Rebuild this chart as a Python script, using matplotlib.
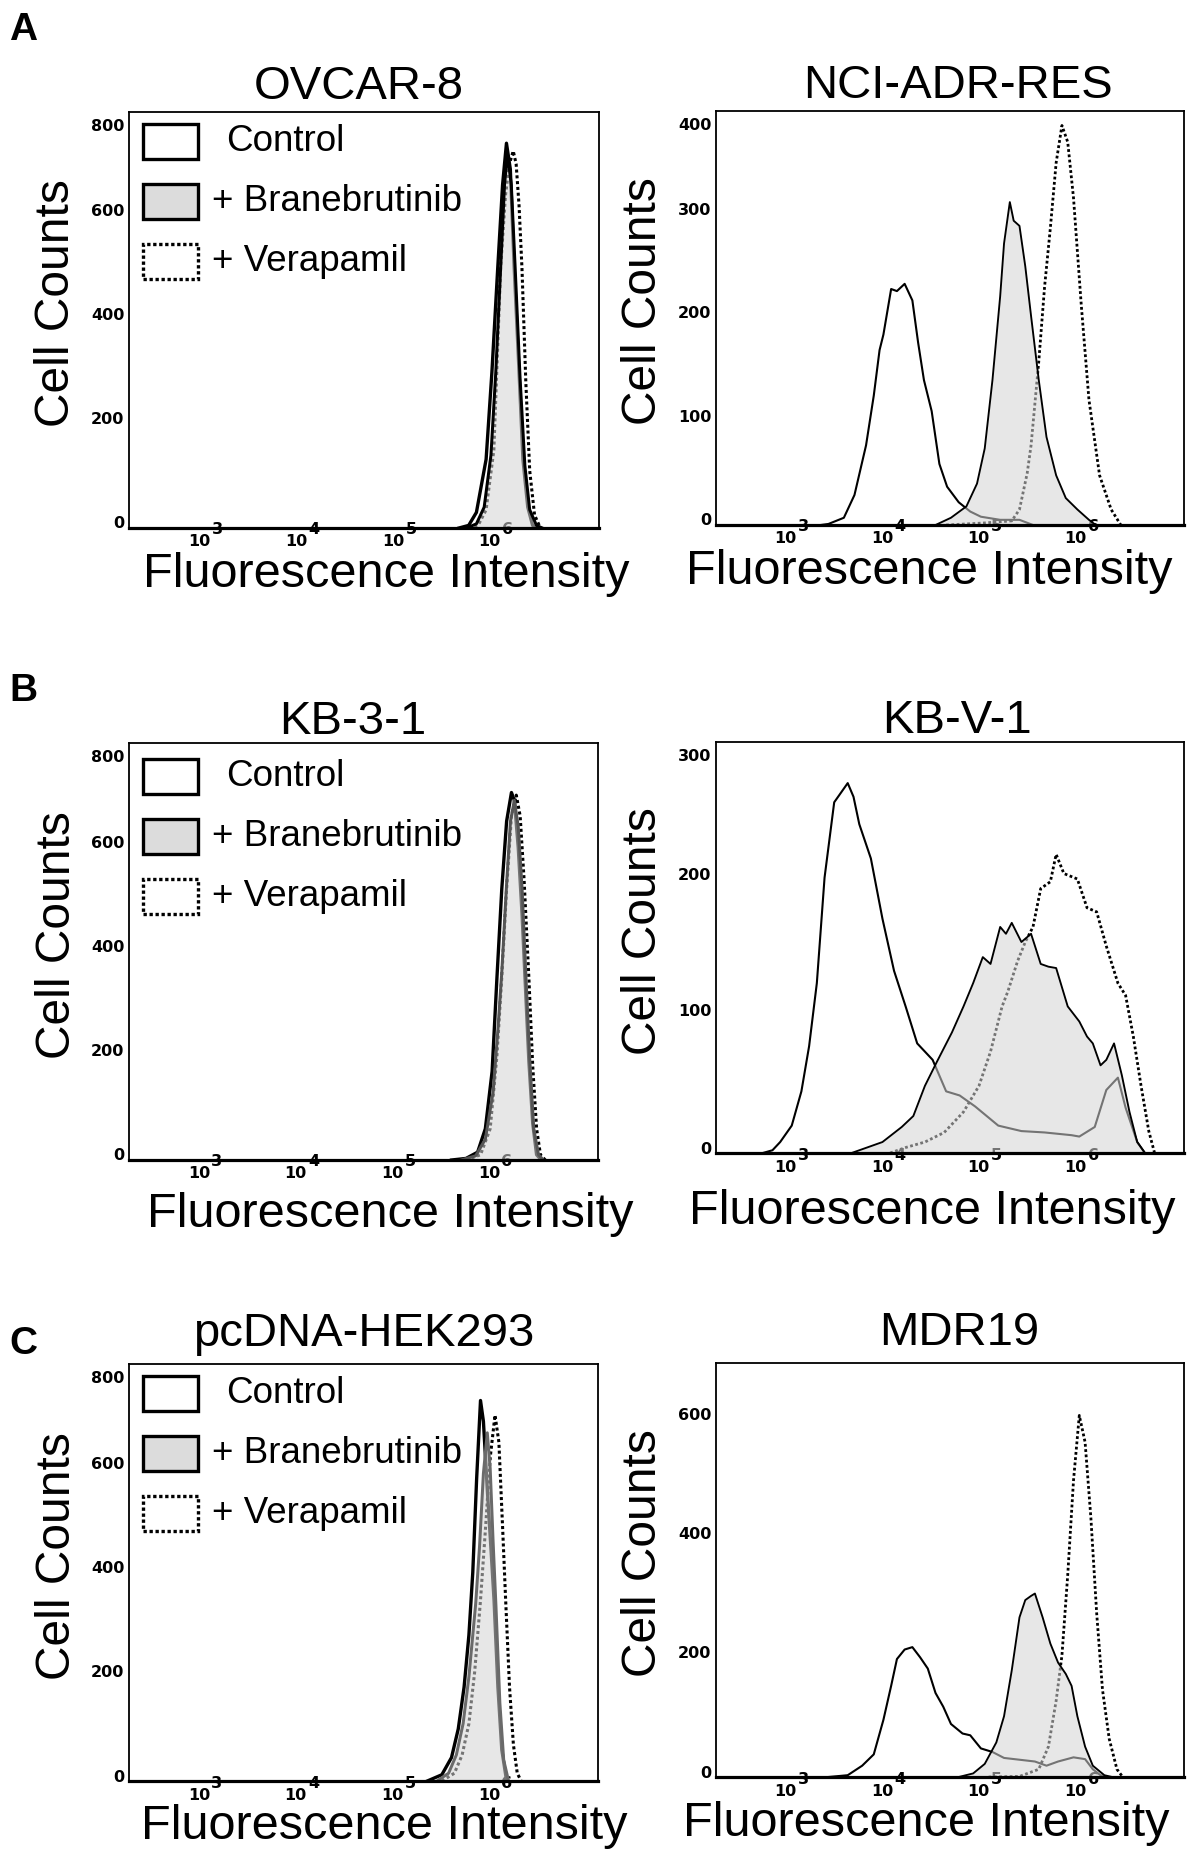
import numpy as np
import matplotlib
matplotlib.use('Agg')
import matplotlib.pyplot as plt
from matplotlib.patches import Rectangle
from matplotlib.ticker import NullLocator

plt.rcParams['font.family'] = ['Liberation Sans', 'DejaVu Sans']

W, H = 1196, 1852

# ---- data: x = log10(fluorescence), y = cell counts ----
# OVCAR-8
ovcar_ctrl_x = [5.62, 5.72, 5.80, 5.90, 5.96, 6.02, 6.07, 6.11, 6.15, 6.19, 6.24, 6.28, 6.33, 6.38, 6.45]
ovcar_ctrl_y = [0, 5, 30, 132, 300, 500, 660, 740, 690, 500, 300, 132, 40, 5, 0]
ovcar_bran_x = [5.70, 5.80, 5.88, 5.95, 6.00, 6.05, 6.09, 6.12, 6.16, 6.20, 6.25, 6.30, 6.35, 6.42, 6.48]
ovcar_bran_y = [0, 8, 40, 140, 300, 500, 660, 720, 660, 500, 290, 120, 35, 5, 0]
ovcar_vera_x = [5.72, 5.82, 5.90, 5.98, 6.05, 6.10, 6.14, 6.18, 6.21, 6.24, 6.27, 6.31, 6.35, 6.40, 6.46]
ovcar_vera_y = [0, 6, 35, 150, 500, 640, 700, 725, 700, 620, 500, 280, 110, 25, 0]

# NCI-ADR-RES
nci_ctrl_x = [3.30, 3.38, 3.54, 3.65, 3.77, 3.85, 3.91, 3.95, 4.03, 4.09, 4.17, 4.25, 4.31,
              4.37, 4.45, 4.53, 4.61, 4.73, 4.85, 4.96, 5.16, 5.36, 5.50]
nci_ctrl_y = [0, 1, 7, 29, 77, 125, 169, 184, 228, 226, 233, 217, 176,
              140, 110, 59, 37, 22, 13, 8, 5, 5, 0]
nci_bran_x = [4.49, 4.65, 4.81, 4.92, 5.00, 5.08, 5.16, 5.20, 5.26, 5.30, 5.36, 5.42, 5.48,
              5.56, 5.64, 5.74, 5.84, 5.96, 6.08, 6.15]
nci_bran_y = [0, 7, 18, 40, 74, 140, 221, 272, 312, 294, 289, 250, 202,
              140, 85, 48, 26, 15, 5, 0]
nci_vera_x = [4.60, 5.00, 5.28, 5.36, 5.44, 5.48, 5.56, 5.62, 5.68, 5.74, 5.80, 5.86, 5.92,
              6.00, 6.08, 6.19, 6.31, 6.41]
nci_vera_y = [0, 2, 4, 15, 50, 77, 158, 230, 287, 350, 386, 370, 316,
              213, 121, 48, 15, 0]

# KB-3-1
kb3_ctrl_x = [5.55, 5.70, 5.82, 5.90, 5.97, 6.02, 6.07, 6.12, 6.17, 6.20, 6.24, 6.28, 6.31, 6.35, 6.39, 6.43, 6.48]
kb3_ctrl_y = [0, 3, 15, 60, 170, 350, 520, 650, 705, 690, 600, 470, 350, 190, 70, 10, 0]
kb3_bran_x = [5.65, 5.80, 5.90, 5.98, 6.03, 6.07, 6.12, 6.16, 6.20, 6.24, 6.28, 6.32, 6.36, 6.40, 6.45, 6.50]
kb3_bran_y = [0, 8, 40, 130, 250, 360, 530, 650, 690, 640, 520, 350, 190, 60, 10, 0]
kb3_vera_x = [5.70, 5.85, 5.95, 6.02, 6.07, 6.12, 6.17, 6.22, 6.26, 6.30, 6.35, 6.39, 6.43, 6.47, 6.52]
kb3_vera_y = [0, 10, 60, 200, 350, 520, 660, 700, 660, 540, 350, 180, 60, 10, 0]

# KB-V-1
kbv_ctrl_x = [2.70, 2.80, 2.88, 3.00, 3.10, 3.18, 3.26, 3.34, 3.44, 3.50, 3.58, 3.64, 3.70, 3.82,
              3.94, 4.06, 4.18, 4.30, 4.46, 4.60, 4.74, 4.90, 5.14, 5.38, 5.62, 5.90, 5.98, 6.14,
              6.26, 6.38, 6.46, 6.58, 6.66]
kbv_ctrl_y = [0, 2, 8, 20, 45, 78, 124, 201, 256, 262, 270, 260, 240, 215,
              171, 133, 107, 80, 68, 45, 42, 34, 20, 16, 15, 13, 12, 19,
              46, 55, 33, 8, 0]
kbv_bran_x = [3.62, 3.78, 3.94, 4.14, 4.26, 4.38, 4.50, 4.66, 4.78, 4.88, 4.98, 5.06, 5.16, 5.22,
              5.28, 5.38, 5.48, 5.58, 5.66, 5.74, 5.86, 5.98, 6.06, 6.12, 6.20, 6.26, 6.34, 6.42,
              6.50, 6.58, 6.66]
kbv_bran_y = [0, 4, 8, 19, 27, 49, 66, 88, 107, 124, 143, 138, 165, 160,
              168, 154, 160, 138, 136, 135, 107, 96, 85, 80, 64, 68, 80, 57,
              30, 8, 0]
kbv_vera_x = [4.02, 4.18, 4.38, 4.58, 4.78, 4.94, 5.06, 5.18, 5.24, 5.34, 5.42, 5.50, 5.58,
              5.68, 5.74, 5.82, 5.96, 6.06, 6.16, 6.26, 6.38, 6.46, 6.54, 6.62, 6.70, 6.76]
kbv_vera_y = [0, 4, 8, 15, 30, 49, 74, 107, 118, 140, 154, 165, 193,
              198, 218, 204, 200, 179, 176, 151, 124, 115, 85, 49, 16, 0]

# pcDNA-HEK293
hek_ctrl_x = [5.30, 5.45, 5.55, 5.62, 5.68, 5.73, 5.77, 5.81, 5.85, 5.88, 5.92, 5.96, 5.99, 6.03, 6.07, 6.12]
hek_ctrl_y = [0, 12, 45, 100, 180, 280, 400, 580, 730, 690, 560, 440, 347, 180, 60, 0]
hek_bran_x = [5.40, 5.52, 5.60, 5.67, 5.73, 5.77, 5.80, 5.84, 5.88, 5.92, 5.95, 5.98, 6.01, 6.05, 6.09, 6.14]
hek_bran_y = [0, 15, 50, 110, 200, 280, 340, 450, 590, 668, 600, 460, 334, 150, 40, 0]
hek_vera_x = [5.45, 5.58, 5.66, 5.73, 5.79, 5.85, 5.90, 5.95, 6.00, 6.04, 6.08, 6.11, 6.15, 6.19, 6.23, 6.27]
hek_vera_y = [0, 15, 50, 110, 210, 347, 480, 620, 702, 650, 480, 347, 180, 70, 15, 0]

# MDR19
mdr_ctrl_x = [3.38, 3.58, 3.73, 3.85, 3.95, 4.03, 4.09, 4.17, 4.25, 4.33, 4.41, 4.49, 4.57, 4.65,
              4.77, 4.85, 4.96, 5.08, 5.20, 5.36, 5.52, 5.64, 5.76, 5.92, 6.04, 6.12, 6.20, 6.28]
mdr_ctrl_y = [0, 3, 19, 38, 96, 153, 198, 214, 218, 201, 182, 141, 118, 89,
              73, 70, 48, 42, 32, 29, 26, 19, 26, 33, 30, 13, 3, 0]
mdr_bran_x = [4.73, 4.88, 5.00, 5.12, 5.20, 5.28, 5.36, 5.42, 5.48, 5.52, 5.60, 5.68, 5.76,
              5.84, 5.90, 5.96, 6.04, 6.12, 6.24, 6.32]
mdr_bran_y = [0, 6, 22, 58, 102, 179, 268, 297, 304, 308, 268, 224, 192,
              173, 153, 102, 51, 19, 3, 0]
mdr_vera_x = [5.04, 5.36, 5.56, 5.66, 5.74, 5.80, 5.86, 5.92, 5.98, 6.04, 6.10, 6.16, 6.22,
              6.29, 6.37, 6.43]
mdr_vera_y = [0, 1, 13, 51, 128, 204, 339, 498, 607, 562, 435, 275, 147,
              64, 13, 0]

titles = ['OVCAR-8', 'NCI-ADR-RES', 'KB-3-1', 'KB-V-1', 'pcDNA-HEK293', 'MDR19']
y_max = [800, 400, 800, 300, 800, 695]
y_ticks = [[0, 200, 400, 600, 800], [0, 100, 200, 300, 400], [0, 200, 400, 600, 800],
           [0, 100, 200, 300], [0, 200, 400, 600, 800], [0, 200, 400, 600]]
series = [
    (ovcar_ctrl_x, ovcar_ctrl_y, ovcar_bran_x, ovcar_bran_y, ovcar_vera_x, ovcar_vera_y),
    (nci_ctrl_x, nci_ctrl_y, nci_bran_x, nci_bran_y, nci_vera_x, nci_vera_y),
    (kb3_ctrl_x, kb3_ctrl_y, kb3_bran_x, kb3_bran_y, kb3_vera_x, kb3_vera_y),
    (kbv_ctrl_x, kbv_ctrl_y, kbv_bran_x, kbv_bran_y, kbv_vera_x, kbv_vera_y),
    (hek_ctrl_x, hek_ctrl_y, hek_bran_x, hek_bran_y, hek_vera_x, hek_vera_y),
    (mdr_ctrl_x, mdr_ctrl_y, mdr_bran_x, mdr_bran_y, mdr_vera_x, mdr_vera_y),
]
decades = [3, 4, 5, 6]
legend_labels = ['Control', '+ Branebrutinib', '+ Verapamil']
panel_letters = ['A', 'B', 'C']

# ---- layout in pixels: left, top, right, bottom ----
boxes = [(129, 112, 599, 528), (716, 111, 1184, 525),
         (129, 743, 598, 1160), (716, 742, 1184, 1153),
         (129, 1364, 598, 1781), (716, 1363, 1184, 1777)]
title_dx = [-5, 8, -11, 7, 0, 9]
title_dy = [13, 13, 9, 9, 18, 18]
xlabel_dx = [22, -21, 27, -18, 21, -24]
xlabel_dy = [59, 59, 67, 71, 58, 59]
legend_top = [12, None, 16, None, 12, None]
bran_edge = ['black', 'black', '#555555', 'black', '#6a6a6a', 'black']
letter_y = [40, 701, 1354]

PT = 0.72  # points per pixel at dpi 100
TICK_FONT = dict(family='DejaVu Sans', fontweight='bold', fontsize=11.5)

fig = plt.figure(figsize=(W / 100, H / 100), dpi=100)

for i, (l, t, r, b) in enumerate(boxes):
    ax = fig.add_axes([l / W, 1 - b / H, (r - l) / W, (b - t) / H])
    aw, ah = r - l, b - t
    left_col = (i % 2 == 0)
    lw = 2.4 if left_col else 1.5
    vlw = 2.2 if left_col else 2.0

    cx, cy, bx, by, vx, vy = series[i]
    ax.plot(10 ** np.array(cx), cy, color='black', lw=lw, zorder=2)
    ax.plot(10 ** np.array(vx), vy, color='black', lw=vlw, ls=(0, (1, 0.9)), zorder=2)
    ax.fill_between(10 ** np.array(bx), by, 0, color='#d4d4d4', alpha=0.55, lw=0, zorder=2.1)
    ax.plot(10 ** np.array(bx), by, color=bran_edge[i], lw=lw * 0.9, zorder=2.2)

    ax.set_xscale('log')
    ax.set_xlim(10 ** 2.215, 10 ** 7.065)
    ax.set_ylim(0, y_max[i])
    ax.xaxis.set_major_locator(NullLocator())
    ax.xaxis.set_minor_locator(NullLocator())
    ax.yaxis.set_major_locator(NullLocator())
    for side in ['top', 'left', 'right']:
        ax.spines[side].set_linewidth(1.3)
    ax.spines['bottom'].set_linewidth(2.3)

    # y tick labels
    for v in y_ticks[i]:
        if v >= y_max[i]:
            ax.annotate(str(v), xy=(0, 1), xycoords='axes fraction',
                        xytext=(-4.5 * PT, -14.5 * PT), textcoords='offset points',
                        ha='right', va='center', **TICK_FONT)
        else:
            ax.annotate(str(v), xy=(0, v), xycoords=('axes fraction', 'data'),
                        xytext=(-4.5 * PT, 4 * PT), textcoords='offset points',
                        ha='right', va='center', **TICK_FONT)

    # x tick labels, FlowJo style 10 with raised exponent
    for e in decades:
        ax.annotate('10', xy=(10 ** e, 0), xycoords=('data', 'axes fraction'),
                    xytext=(-6 * PT, -14 * PT), textcoords='offset points',
                    ha='center', va='center', **TICK_FONT)
        ax.annotate(str(e), xy=(10 ** e, 0), xycoords=('data', 'axes fraction'),
                    xytext=(12 * PT, -2 * PT), textcoords='offset points',
                    ha='center', va='center', zorder=1, **TICK_FONT)

    ax.text(0.5 + title_dx[i] / aw, 1 + title_dy[i] / ah, titles[i], transform=ax.transAxes,
            ha='center', va='baseline', fontsize=34)
    ax.text(0.5 + xlabel_dx[i] / aw, -xlabel_dy[i] / ah, 'Fluorescence Intensity',
            transform=ax.transAxes, ha='center', va='baseline', fontsize=35)
    ax.text(-72 / aw, 0.54, 'Cell Counts', transform=ax.transAxes, rotation=90,
            ha='center', va='center', fontsize=34.5)

    if legend_top[i] is not None:
        y0 = legend_top[i]
        for k, lab in enumerate(legend_labels):
            top = y0 + 60 * k
            face = '#dcdcdc' if k == 1 else 'white'
            ls = (0, (1, 0.8)) if k == 2 else '-'
            rect = Rectangle((14 / aw, 1 - (top + 35) / ah), 55 / aw, 35 / ah,
                             transform=ax.transAxes, facecolor=face, edgecolor='black',
                             lw=2.4, ls=ls, zorder=5)
            ax.add_patch(rect)
            tx = 97 if k == 0 else 83
            ax.text(tx / aw, 1 - (top + 17.5) / ah, lab, transform=ax.transAxes,
                    ha='left', va='center', fontsize=26.5, zorder=5)

for letter, ly in zip(panel_letters, letter_y):
    fig.text(9 / W, 1 - ly / H, letter, ha='left', va='baseline',
             fontsize=28, fontweight='bold')

fig.savefig('out.png', dpi=100)
